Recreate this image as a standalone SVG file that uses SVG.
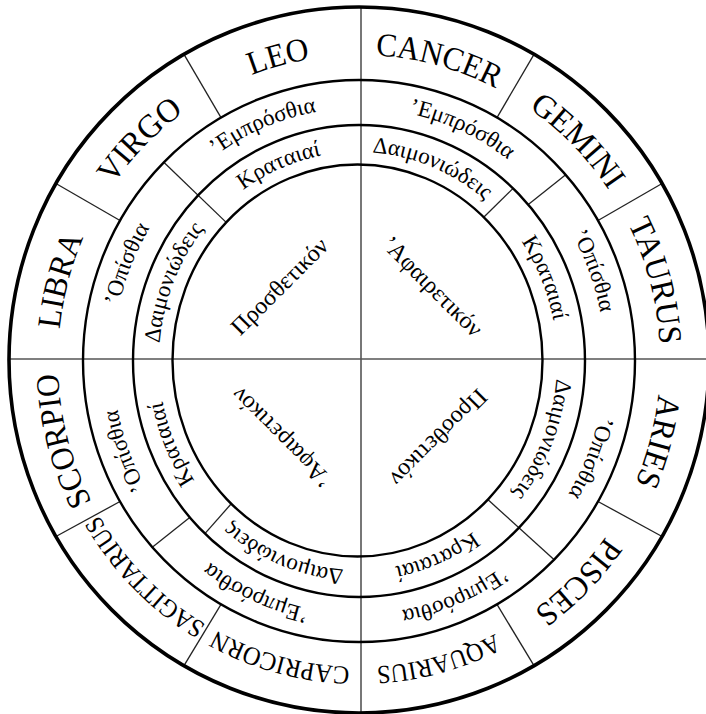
<svg xmlns="http://www.w3.org/2000/svg" xmlns:xlink="http://www.w3.org/1999/xlink" width="706" height="714" viewBox="0 0 706 714">
<style>
.ring{fill:none;stroke:#000;stroke-width:2.4}
.outer{fill:none;stroke:#000;stroke-width:3.6}
.div{stroke:#222;stroke-width:1.3;fill:none}
.axis{stroke:#555;stroke-width:1.6;fill:none}
text{font-family:"Liberation Serif","DejaVu Serif",serif;fill:#000}
.z{font-size:33px}
.zs{font-size:26px}
.m{font-size:23px}
.c{font-size:24px;text-anchor:middle}
textPath{text-anchor:middle}
</style>
<defs>
<path id="pz" d="M359,667 A301,306 0 1 1 359,55 A301,306 0 1 1 359,667 A301,306 0 1 1 359,55 A301,306 0 1 1 359,667"/>
<path id="pm" d="M359,614 A246,253 0 1 1 359,108 A246,253 0 1 1 359,614 A246,253 0 1 1 359,108 A246,253 0 1 1 359,614"/>
<path id="pi" d="M358,570 A199,209 0 1 1 358,152 A199,209 0 1 1 358,570 A199,209 0 1 1 358,152 A199,209 0 1 1 358,570"/>
</defs>
<rect width="706" height="714" fill="#fff"/>
<g id="connectors">
<line class="axis" x1="361" y1="7" x2="361" y2="713"/>
<line class="axis" x1="9" y1="359" x2="706" y2="359"/>
<line class="div" x1="497" y1="117.6" x2="534" y2="54.3"/>
<line class="div" x1="598" y1="220.5" x2="662.1" y2="183.5"/>
<line class="div" x1="598" y1="501.5" x2="662.1" y2="536.5"/>
<line class="div" x1="497" y1="604.4" x2="534" y2="665.7"/>
<line class="div" x1="221" y1="604.4" x2="184" y2="665.7"/>
<line class="div" x1="120" y1="501.5" x2="55.9" y2="536.5"/>
<line class="div" x1="120" y1="220.5" x2="55.9" y2="183.5"/>
<line class="div" x1="221" y1="117.6" x2="184" y2="54.3"/>
<line class="div" x1="163.8" y1="162.3" x2="226.2" y2="222.4"/>
<line class="div" x1="554.2" y1="559.7" x2="487.8" y2="499.6"/>
<line class="div" x1="565.7" y1="174.8" x2="528.3" y2="204.6"/>
<line class="div" x1="513.1" y1="188.4" x2="483.2" y2="217.7"/>
<line class="div" x1="152.3" y1="547.2" x2="189.7" y2="517.4"/>
<line class="div" x1="204.9" y1="533.6" x2="230.8" y2="504.3"/>
</g>
<g id="rings">
<ellipse class="outer" cx="359" cy="360" rx="350" ry="353"/>
<ellipse class="ring" cx="359" cy="361" rx="276" ry="281"/>
<ellipse class="ring" cx="359" cy="361" rx="226" ry="236"/>
<ellipse class="ring" cx="357.5" cy="360.5" rx="185" ry="196"/>
</g>
<g id="zodiac">
<g id="cancer"><text class="z"><textPath href="#pz" startOffset="27.083%" textLength="126" lengthAdjust="spacingAndGlyphs">CANCER</textPath></text></g>
<g id="gemini"><text class="z"><textPath href="#pz" startOffset="31.25%" textLength="115" lengthAdjust="spacingAndGlyphs">GEMINI</textPath></text></g>
<g id="taurus"><text class="z"><textPath href="#pz" startOffset="35.417%" textLength="126" lengthAdjust="spacingAndGlyphs">TAURUS</textPath></text></g>
<g id="aries"><text class="z"><textPath href="#pz" startOffset="39.583%" textLength="92" lengthAdjust="spacingAndGlyphs">ARIES</textPath></text></g>
<g id="pisces"><text class="z"><textPath href="#pz" startOffset="43.75%" textLength="104" lengthAdjust="spacingAndGlyphs">PISCES</textPath></text></g>
<g id="aquarius"><text class="zs"><textPath href="#pz" startOffset="47.917%" textLength="124" lengthAdjust="spacingAndGlyphs">AQUARIUS</textPath></text></g>
<g id="capricorn"><text class="zs"><textPath href="#pz" startOffset="52.083%" textLength="140" lengthAdjust="spacingAndGlyphs">CAPRICORN</textPath></text></g>
<g id="sagittarius"><text class="zs"><textPath href="#pz" startOffset="56.25%" textLength="155" lengthAdjust="spacingAndGlyphs">SAGITTARIUS</textPath></text></g>
<g id="scorpio"><text class="z"><textPath href="#pz" startOffset="60.417%" textLength="134" lengthAdjust="spacingAndGlyphs">SCORPIO</textPath></text></g>
<g id="libra"><text class="z"><textPath href="#pz" startOffset="64.583%" textLength="95" lengthAdjust="spacingAndGlyphs">LIBRA</textPath></text></g>
<g id="virgo"><text class="z"><textPath href="#pz" startOffset="68.75%" textLength="102" lengthAdjust="spacingAndGlyphs">VIRGO</textPath></text></g>
<g id="leo"><text class="z"><textPath href="#pz" startOffset="72.917%" textLength="61" lengthAdjust="spacingAndGlyphs">LEO</textPath></text></g>
</g>
<g id="middle">
<g id="m1"><text class="m"><textPath href="#pm" startOffset="28.368%">’Εμπρόσθια</textPath></text></g>
<g id="m2"><text class="m"><textPath href="#pm" startOffset="34.618%">’Οπίσθια</textPath></text></g>
<g id="m3"><text class="m"><textPath href="#pm" startOffset="40.625%">’Οπίσθια</textPath></text></g>
<g id="m4"><text class="m"><textPath href="#pm" startOffset="46.875%">’Εμπρόσθια</textPath></text></g>
<g id="m5"><text class="m"><textPath href="#pm" startOffset="53.368%">’Εμπρόσθια</textPath></text></g>
<g id="m6"><text class="m"><textPath href="#pm" startOffset="59.618%">’Οπίσθια</textPath></text></g>
<g id="m7"><text class="m"><textPath href="#pm" startOffset="65.625%">’Οπίσθια</textPath></text></g>
<g id="m8"><text class="m"><textPath href="#pm" startOffset="71.875%">’Εμπρόσθια</textPath></text></g>
</g>
<g id="inner">
<g id="i1"><text class="m"><textPath href="#pi" startOffset="27.986%">Δαιμονιώδεις</textPath></text></g>
<g id="i2"><text class="m"><textPath href="#pi" startOffset="34.236%">Κραταιαί</textPath></text></g>
<g id="i3"><text class="m"><textPath href="#pi" startOffset="40.625%">Δαιμονιώδεις</textPath></text></g>
<g id="i4"><text class="m"><textPath href="#pi" startOffset="46.875%">Κραταιαί</textPath></text></g>
<g id="i5"><text class="m"><textPath href="#pi" startOffset="52.986%">Δαιμονιώδεις</textPath></text></g>
<g id="i6"><text class="m"><textPath href="#pi" startOffset="59.236%">Κραταιαί</textPath></text></g>
<g id="i7"><text class="m"><textPath href="#pi" startOffset="65.625%">Δαιμονιώδεις</textPath></text></g>
<g id="i8"><text class="m"><textPath href="#pi" startOffset="71.875%">Κραταιαί</textPath></text></g>
</g>
<g id="center">
<g id="c1" transform="translate(280,287) rotate(-45)"><text class="c" x="0" y="7">Προσθετικόν</text></g>
<g id="c2" transform="translate(432,287) rotate(45)"><text class="c" x="0" y="7">’Αφαιρετικόν</text></g>
<g id="c3" transform="translate(282,437) rotate(-135)"><text class="c" x="0" y="7">’Αφαιρετικόν</text></g>
<g id="c4" transform="translate(438,437) rotate(135)"><text class="c" x="0" y="7">Προσθετικόν</text></g>
</g>
</svg>
